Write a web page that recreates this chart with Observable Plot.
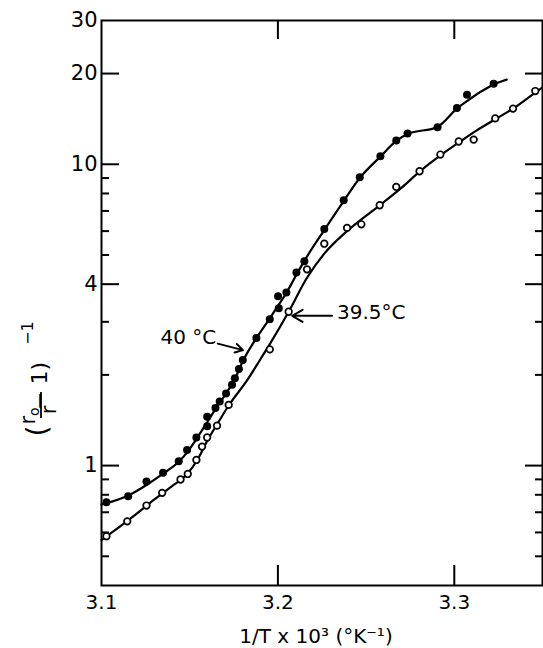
<!DOCTYPE html>
<html><head><meta charset="utf-8">
<script src="https://cdn.jsdelivr.net/npm/d3@7"></script>
<script src="https://cdn.jsdelivr.net/npm/@observablehq/plot@0.6"></script>
<style>html,body{margin:0;padding:0;background:#fff}#chart{position:absolute;left:0;top:0}</style>
</head><body><div id="chart"></div>
<script>
// 40 °C series (filled circles)
const filledX = [3.1028,3.1151,3.1255,3.1349,3.1438,3.1485,3.1538,3.1599,3.1599,3.1646,3.1670,3.1706,3.1740,3.1756,3.1779,3.1801,3.1878,3.1954,3.2005,3.2001,3.2048,3.2105,3.2150,3.2263,3.2373,3.2464,3.2581,3.2671,3.2735,3.2905,3.3015,3.3072,3.3223];
const filledY = [0.756,0.791,0.885,0.946,1.033,1.127,1.24,1.35,1.453,1.553,1.633,1.735,1.854,1.95,2.09,2.24,2.65,3.06,3.33,3.65,3.75,4.37,4.77,6.1,7.6,9.06,10.63,12.0,12.64,13.26,15.37,17.0,18.5];
// 39.5 °C series (open circles)
const openX = [3.1028,3.1146,3.1255,3.1344,3.1448,3.1489,3.1538,3.1570,3.1599,3.1655,3.1721,3.1954,3.2061,3.2165,3.2263,3.2392,3.2473,3.2577,3.2671,3.2803,3.2921,3.3025,3.3110,3.3232,3.3333,3.3459];
const openY = [0.583,0.653,0.737,0.812,0.899,0.938,1.044,1.156,1.24,1.357,1.59,2.43,3.24,4.48,5.45,6.15,6.32,7.31,8.41,9.48,10.77,11.9,12.07,14.2,15.3,17.5];
// smooth curves drawn through each series
const fit40X = [3.100,3.1028,3.1151,3.1255,3.1349,3.1438,3.1490,3.1540,3.1600,3.1646,3.1706,3.1760,3.1801,3.1878,3.1954,3.2005,3.2048,3.2105,3.2150,3.2263,3.2373,3.2464,3.2581,3.2671,3.2735,3.2905,3.3015,3.3072,3.3150,3.3223,3.3297];
const fit40Y = [0.743,0.750,0.795,0.862,0.940,1.030,1.115,1.230,1.395,1.540,1.735,1.960,2.220,2.650,3.080,3.420,3.740,4.300,4.780,6.050,7.550,9.000,10.60,11.95,12.60,13.30,15.30,16.20,17.40,18.40,19.10];
const fit395X = [3.100,3.110,3.120,3.130,3.140,3.148,3.155,3.160,3.1655,3.172,3.1826,3.190,3.1954,3.2061,3.2165,3.2263,3.2392,3.2577,3.2700,3.2803,3.2921,3.3025,3.3123,3.3232,3.3333,3.3459,3.3500];
const fit395Y = [0.567,0.625,0.693,0.772,0.855,0.930,1.060,1.210,1.370,1.580,1.920,2.250,2.530,3.240,4.200,5.050,6.000,7.310,8.350,9.450,10.70,11.80,12.90,14.10,15.30,17.30,18.00];
// axes
const xTickLabels = [3.1, 3.2, 3.3];
const xInnerTicks = [3.2, 3.3];
const yTickLabels = [1, 4, 10, 20, 30];
const yMajorTicks = [1, 4, 10, 20];
const yMinorTicks = [0.5, 0.6, 0.7, 0.8, 0.9, 2, 3, 5, 6, 7, 8, 9];
// annotations
const noteText = ["40 °C", "39.5°C"];
const noteX = [3.1334, 3.2335];
const noteY = [2.654, 3.22];
const arrowX1 = [3.1659, 3.2307];
const arrowY1 = [2.54, 3.14];
const arrowX2 = [3.1802, 3.2081];
const arrowY2 = [2.416, 3.14];
const xLabel = "1/T x 10³ (°K⁻¹)";

const pts = (X, Y) => X.map((x, i) => ({x, y: Y[i]}));
const filled = pts(filledX, filledY), open = pts(openX, openY);
const fit40 = pts(fit40X, fit40Y), fit395 = pts(fit395X, fit395Y);
const notes = noteText.map((t, i) => ({t, x: noteX[i], y: noteY[i]}));
const arrows = arrowX1.map((x1, i) => ({x1, y1: arrowY1[i], x2: arrowX2[i], y2: arrowY2[i]}));
const F = "DejaVu Sans";

const W = 543, H = 648, mL = 101, mR = 1, mT = 20, mB = 63;
const fw = W - mL - mR, fh = H - mT - mB; // frame size in pixels
const tk = {stroke: "black", strokeWidth: 2};

const chart = Plot.plot({
  width: W, height: H,
  marginLeft: mL, marginRight: mR, marginTop: mT, marginBottom: mB,
  style: {fontFamily: F, background: "white", color: "black"},
  x: {domain: [3.1, 3.35], axis: null},
  y: {type: "log", domain: [0.4, 30], axis: null},
  marks: [
    Plot.frame({stroke: "black", strokeWidth: 2}),
    Plot.axisY({ticks: yTickLabels, anchor: "left", label: null, tickSize: 0, tickPadding: 4, fontSize: 21, tickFormat: d => String(d)}),
    Plot.axisX({ticks: xTickLabels, anchor: "bottom", label: null, tickSize: 0, tickPadding: 9, fontSize: 20, tickFormat: d => d.toFixed(1)}),
    // inward tick marks
    Plot.tickY(yMajorTicks, {y: d => d, insetRight: fw - 18, ...tk}),
    Plot.tickY(yMinorTicks, {y: d => d, insetRight: fw - 8, ...tk}),
    Plot.tickY(yMajorTicks, {y: d => d, insetLeft: fw - 17, ...tk}),
    Plot.tickY(yMinorTicks, {y: d => d, insetLeft: fw - 7, ...tk}),
    Plot.tickX(xInnerTicks, {x: d => d, insetTop: fh - 20, ...tk}),
    Plot.tickX(xInnerTicks, {x: d => d, insetBottom: fh - 19, ...tk}),
    Plot.line(fit40, {x: "x", y: "y", curve: "monotone-x", stroke: "black", strokeWidth: 2.2}),
    Plot.line(fit395, {x: "x", y: "y", curve: "monotone-x", stroke: "black", strokeWidth: 2.2}),
    Plot.dot(filled, {x: "x", y: "y", r: 4, fill: "black"}),
    Plot.dot(open, {x: "x", y: "y", r: 3.3, fill: "white", stroke: "black", strokeWidth: 1.7}),
    Plot.text(notes, {x: "x", y: "y", text: "t", textAnchor: "start", lineAnchor: "middle", fontSize: 20, fill: "black"}),
    Plot.arrow(arrows, {x1: "x1", y1: "y1", x2: "x2", y2: "y2", stroke: "black", strokeWidth: 2, headLength: 9}),
    Plot.text([xLabel], {frameAnchor: "bottom", text: d => d, lineAnchor: "middle", dx: -6, dy: 51, fontSize: 20, fill: "black"})
  ]
});
document.getElementById("chart").appendChild(chart);

// rotated y-axis label: ( r_o / r - 1 )^-1
const svg = d3.select(chart);
const g = svg.append("g").attr("transform", "translate(47,431) rotate(-90)")
  .attr("font-family", F).attr("fill", "black");
g.append("text").attr("x", 0).attr("y", 0).attr("font-size", 28).text("(");
const num = g.append("text").attr("x", 15).attr("y", -12).attr("font-size", 21);
num.append("tspan").text("r");
num.append("tspan").attr("font-size", 14).attr("dy", 4).text("o");
g.append("line").attr("x1", 13).attr("x2", 39).attr("y1", -6).attr("y2", -6).attr("stroke", "black").attr("stroke-width", 1.8);
g.append("text").attr("x", 21).attr("y", 9).attr("font-size", 21).text("r");
g.append("text").attr("x", 45).attr("y", 0).attr("font-size", 22).text("− 1)");
g.append("text").attr("x", 98).attr("y", -14).attr("font-size", 16).text("−1");
</script>
</body></html>
